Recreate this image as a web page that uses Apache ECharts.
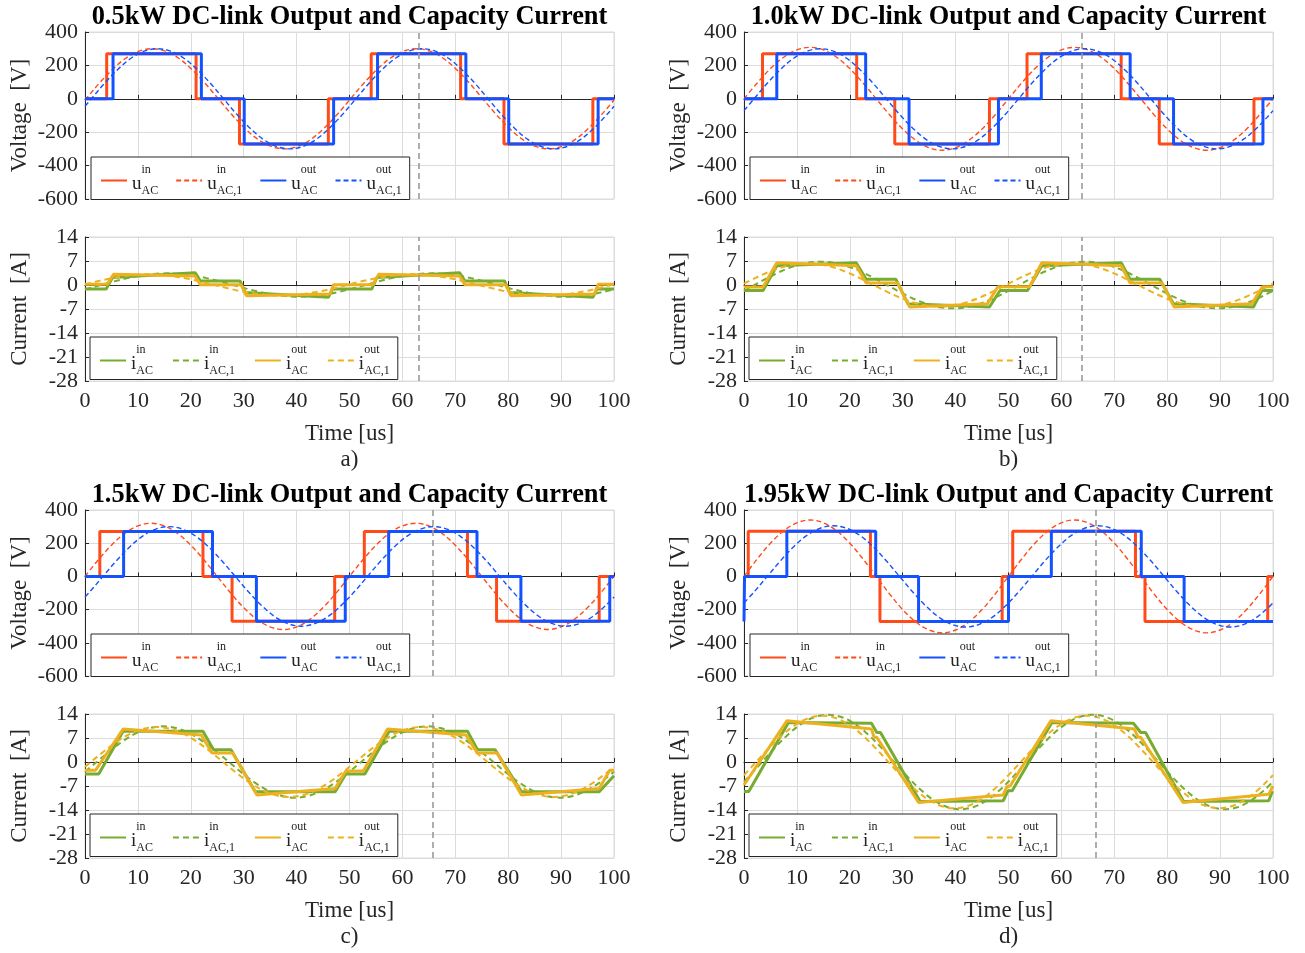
<!DOCTYPE html>
<html><head><meta charset="utf-8">
<script src="https://cdn.jsdelivr.net/npm/echarts@6/dist/echarts.min.js"></script>
<style>html,body{margin:0;padding:0;background:#fff}#c{width:1305px;height:953px}</style>
</head><body><div id="c"></div><script>
// ---------- labels ----------
const titles = ['0.5kW DC-link Output and Capacity Current','1.0kW DC-link Output and Capacity Current','1.5kW DC-link Output and Capacity Current','1.95kW DC-link Output and Capacity Current'];
const subLabels = ['a)','b)','c)','d)'];
const timeTicks = [0,10,20,30,40,50,60,70,80,90,100];
const voltTicks = [-600,-400,-200,0,200,400];
const currTicks = [-28,-21,-14,-7,0,7,14];
const cursorTimes = [63.0, 63.9, 65.7, 66.4];

// ---------- panel a (0.5 kW) ----------
const a_uIn  = [[0,0],[4.1,270],[21.0,0],[29.2,-270],[46.0,0],[54.1,270],[71.0,0],[79.2,-270],[96.0,0],[100,0]];
const a_uOut = [[0,0],[5.3,270],[22.0,0],[30.1,-270],[47.0,0],[55.3,270],[72.0,0],[80.1,-270],[97.0,0],[100,0]];
const a_uIn1 = [[0,-8],[0.2,0],[2.7,93],[5.2,176],[7.7,243],[10.2,285],[12.7,300],[15.2,285],[17.7,243],[20.2,176],[22.7,93],[25.2,0],[27.7,-93],[30.2,-176],[32.7,-243],[35.2,-285],[37.7,-300],[40.2,-285],[42.7,-243],[45.2,-176],[47.7,-93],[50.2,0],[52.7,93],[55.2,176],[57.7,243],[60.2,285],[62.7,300],[65.2,285],[67.7,243],[70.2,176],[72.7,93],[75.2,0],[77.7,-93],[80.2,-176],[82.7,-243],[85.2,-285],[87.7,-300],[90.2,-285],[92.7,-243],[95.2,-176],[97.7,-93],[100,-8]];
const a_uOut1 = [[0,-45],[1.2,0],[3.7,93],[6.2,176],[8.7,243],[11.2,285],[13.7,300],[16.2,285],[18.7,243],[21.2,176],[23.7,93],[26.2,0],[28.7,-93],[31.2,-176],[33.7,-243],[36.2,-285],[38.7,-300],[41.2,-285],[43.7,-243],[46.2,-176],[48.7,-93],[51.2,0],[53.7,93],[56.2,176],[58.7,243],[61.2,285],[63.7,300],[66.2,285],[68.7,243],[71.2,176],[73.7,93],[76.2,0],[78.7,-93],[81.2,-176],[83.7,-243],[86.2,-285],[88.7,-300],[91.2,-285],[93.7,-243],[96.2,-176],[98.7,-93],[100,-45]];
const a_iIn  = [[0,-1.2],[4.0,-1.2],[5.2,2.2],[20.8,3.6],[21.8,1.2],[29.3,1.2],[30.3,-2.2],[46.0,-3.6],[46.8,-1.2],[54.2,-1.2],[55.2,2.2],[70.8,3.6],[71.8,1.2],[79.3,1.2],[80.3,-2.2],[96.0,-3.6],[96.8,-1.2],[100,-1.2]];
const a_iOut = [[0,0.2],[4.2,0.2],[5.4,3.1],[20.8,2.6],[21.8,0.1],[29.5,0.1],[30.5,-3.1],[46.3,-2.6],[47.0,0.1],[54.4,0.1],[55.5,3.1],[70.8,2.6],[71.8,0.1],[79.5,0.1],[80.5,-3.1],[96.3,-2.6],[97.0,0.2],[100,0.2]];
const a_iIn1 = [[0,-1.25],[0.5,-1.05],[3,0],[5.5,1.05],[8,2.0],[10.5,2.75],[13,3.23],[15.5,3.4],[18,3.23],[20.5,2.75],[23,2.0],[25.5,1.05],[28,0],[30.5,-1.05],[33,-2.0],[35.5,-2.75],[38,-3.23],[40.5,-3.4],[43,-3.23],[45.5,-2.75],[48,-2.0],[50.5,-1.05],[53,0],[55.5,1.05],[58,2.0],[60.5,2.75],[63,3.23],[65.5,3.4],[68,3.23],[70.5,2.75],[73,2.0],[75.5,1.05],[78,0],[80.5,-1.05],[83,-2.0],[85.5,-2.75],[88,-3.23],[90.5,-3.4],[93,-3.23],[95.5,-2.75],[98,-2.0],[100,-1.25]];
const a_iOut1 = [[0,0.19],[2,0.96],[4.5,1.82],[7,2.51],[9.5,2.95],[12,3.1],[14.5,2.95],[17,2.51],[19.5,1.82],[22,0.96],[24.5,0],[27,-0.96],[29.5,-1.82],[32,-2.51],[34.5,-2.95],[37,-3.1],[39.5,-2.95],[42,-2.51],[44.5,-1.82],[47,-0.96],[49.5,0],[52,0.96],[54.5,1.82],[57,2.51],[59.5,2.95],[62,3.1],[64.5,2.95],[67,2.51],[69.5,1.82],[72,0.96],[74.5,0],[77,-0.96],[79.5,-1.82],[82,-2.51],[84.5,-2.95],[87,-3.1],[89.5,-2.95],[92,-2.51],[94.5,-1.82],[97,-0.96],[99.5,0],[100,0.19]];

// ---------- panel b (1.0 kW) ----------
const b_uIn  = [[0,0],[3.5,270],[21.3,0],[28.5,-270],[46.4,0],[53.5,270],[71.3,0],[78.5,-270],[96.4,0],[100,0]];
const b_uOut = [[0,0],[6.2,270],[23.0,0],[31.2,-270],[48.1,0],[56.2,270],[73.0,0],[81.2,-270],[98.1,0],[100,0]];
const b_uIn1 = [[0,0],[2.5,95],[5,181],[7.5,249],[10,293],[12.5,308],[15,293],[17.5,249],[20,181],[22.5,95],[25,0],[27.5,-95],[30,-181],[32.5,-249],[35,-293],[37.5,-308],[40,-293],[42.5,-249],[45,-181],[47.5,-95],[50,0],[52.5,95],[55,181],[57.5,249],[60,293],[62.5,308],[65,293],[67.5,249],[70,181],[72.5,95],[75,0],[77.5,-95],[80,-181],[82.5,-249],[85,-293],[87.5,-308],[90,-293],[92.5,-249],[95,-181],[97.5,-95],[100,0]];
const b_uOut1 = [[0,-71],[1.9,0],[4.4,93],[6.9,176],[9.4,243],[11.9,285],[14.4,300],[16.9,285],[19.4,243],[21.9,176],[24.4,93],[26.9,0],[29.4,-93],[31.9,-176],[34.4,-243],[36.9,-285],[39.4,-300],[41.9,-285],[44.4,-243],[46.9,-176],[49.4,-93],[51.9,0],[54.4,93],[56.9,176],[59.4,243],[61.9,285],[64.4,300],[66.9,285],[69.4,243],[71.9,176],[74.4,93],[76.9,0],[79.4,-93],[81.9,-176],[84.4,-243],[86.9,-285],[89.4,-300],[91.9,-285],[94.4,-243],[96.9,-176],[99.4,-93],[100,-71]];
const b_iIn  = [[0,-1.6],[3.6,-1.6],[6.2,5.6],[21.2,6.5],[23.1,1.7],[28.7,1.7],[31.0,-5.5],[46.4,-6.4],[48.4,-1.6],[53.6,-1.6],[56.3,5.6],[71.3,6.5],[73.0,1.7],[78.6,1.7],[81.2,-5.5],[96.3,-6.4],[97.9,-1.6],[100,-1.6]];
const b_iOut = [[0,-0.6],[3.6,-0.6],[6.2,6.5],[21.2,5.6],[23.1,0.6],[29.0,0.6],[31.3,-6.4],[46.0,-5.5],[48.0,-0.5],[54.0,-0.5],[56.3,6.5],[71.3,5.6],[73.0,0.6],[79.0,0.6],[81.3,-6.4],[96.0,-5.5],[98.0,-0.5],[100,-0.5]];
const b_iIn1 = [[0,-1.69],[2,0],[4.5,2.1],[7,4.0],[9.5,5.5],[12,6.47],[14.5,6.8],[17,6.47],[19.5,5.5],[22,4.0],[24.5,2.1],[27,0],[29.5,-2.1],[32,-4.0],[34.5,-5.5],[37,-6.47],[39.5,-6.8],[42,-6.47],[44.5,-5.5],[47,-4.0],[49.5,-2.1],[52,0],[54.5,2.1],[57,4.0],[59.5,5.5],[62,6.47],[64.5,6.8],[67,6.47],[69.5,5.5],[72,4.0],[74.5,2.1],[77,0],[79.5,-2.1],[82,-4.0],[84.5,-5.5],[87,-6.47],[89.5,-6.8],[92,-6.47],[94.5,-5.5],[97,-4.0],[99.5,-2.1],[100,-1.69]];
const b_iOut1 = [[0,0.4],[2,1.95],[4.5,3.7],[7,5.1],[9.5,6.0],[12,6.3],[14.5,6.0],[17,5.1],[19.5,3.7],[22,1.95],[24.5,0],[27,-1.95],[29.5,-3.7],[32,-5.1],[34.5,-6.0],[37,-6.3],[39.5,-6.0],[42,-5.1],[44.5,-3.7],[47,-1.95],[49.5,0],[52,1.95],[54.5,3.7],[57,5.1],[59.5,6.0],[62,6.3],[64.5,6.0],[67,5.1],[69.5,3.7],[72,1.95],[74.5,0],[77,-1.95],[79.5,-3.7],[82,-5.1],[84.5,-6.0],[87,-6.3],[89.5,-6.0],[92,-5.1],[94.5,-3.7],[97,-1.95],[99.5,0],[100,0.4]];

// ---------- panel c (1.5 kW) ----------
const c_uIn  = [[0,0],[2.8,270],[22.3,0],[27.8,-270],[47.2,0],[52.8,270],[72.3,0],[77.8,-270],[97.2,0],[100,0]];
const c_uOut = [[0,0],[7.3,270],[24.1,0],[32.4,-270],[49.2,0],[57.4,270],[74.1,0],[82.4,-270],[99.2,0],[100,0]];
const c_uIn1 = [[0,0],[2.5,99],[5,188],[7.5,259],[10,304],[12.5,320],[15,304],[17.5,259],[20,188],[22.5,99],[25,0],[27.5,-99],[30,-188],[32.5,-259],[35,-304],[37.5,-320],[40,-304],[42.5,-259],[45,-188],[47.5,-99],[50,0],[52.5,99],[55,188],[57.5,259],[60,304],[62.5,320],[65,304],[67.5,259],[70,188],[72.5,99],[75,0],[77.5,-99],[80,-188],[82.5,-259],[85,-304],[87.5,-320],[90,-304],[92.5,-259],[95,-188],[97.5,-99],[100,0]];
const c_uOut1 = [[0,-124],[0.9,-93],[3.4,0],[5.9,93],[8.4,176],[10.9,243],[13.4,285],[15.9,300],[18.4,285],[20.9,243],[23.4,176],[25.9,93],[28.4,0],[30.9,-93],[33.4,-176],[35.9,-243],[38.4,-285],[40.9,-300],[43.4,-285],[45.9,-243],[48.4,-176],[50.9,-93],[53.4,0],[55.9,93],[58.4,176],[60.9,243],[63.4,285],[65.9,300],[68.4,285],[70.9,243],[73.4,176],[75.9,93],[78.4,0],[80.9,-93],[83.4,-176],[85.9,-243],[88.4,-285],[90.9,-300],[93.4,-285],[95.9,-243],[98.4,-176],[100,-124]];
const c_iIn  = [[0,-3.5],[2.6,-3.5],[7.2,9.0],[22.3,9.0],[24.3,3.6],[27.6,3.6],[32.2,-8.7],[47.3,-8.7],[49.3,-3.5],[52.9,-3.5],[57.5,9.0],[72.3,9.0],[74.2,3.6],[77.5,3.6],[82.5,-8.7],[97.2,-8.7],[100,-4.0]];
const c_iOut = [[0,-2.4],[2.0,-2.4],[7.2,9.6],[22.0,7.9],[24.0,2.6],[27.9,2.6],[32.5,-9.6],[47.3,-7.7],[49.3,-2.6],[52.6,-2.6],[57.2,9.6],[72.0,7.9],[74.2,2.6],[77.9,2.6],[82.5,-9.6],[97.2,-7.7],[99.2,-2.4],[100,-2.4]];
const c_iIn1 = [[0,-2.83],[2.2,0],[4.7,3.21],[7.2,6.11],[9.7,8.41],[12.2,9.89],[14.7,10.4],[17.2,9.89],[19.7,8.41],[22.2,6.11],[24.7,3.21],[27.2,0],[29.7,-3.21],[32.2,-6.11],[34.7,-8.41],[37.2,-9.89],[39.7,-10.4],[42.2,-9.89],[44.7,-8.41],[47.2,-6.11],[49.7,-3.21],[52.2,0],[54.7,3.21],[57.2,6.11],[59.7,8.41],[62.2,9.89],[64.7,10.4],[67.2,9.89],[69.7,8.41],[72.2,6.11],[74.7,3.21],[77.2,0],[79.7,-3.21],[82.2,-6.11],[84.7,-8.41],[87.2,-9.89],[89.7,-10.4],[92.2,-9.89],[94.7,-8.41],[97.2,-6.11],[99.7,-3.21],[100,-2.83]];
const c_iOut1 = [[0,-1.4],[1.1,0],[3.6,3.15],[6.1,6.0],[8.6,8.25],[11.1,9.7],[13.6,10.2],[16.1,9.7],[18.6,8.25],[21.1,6.0],[23.6,3.15],[26.1,0],[28.6,-3.15],[31.1,-6.0],[33.6,-8.25],[36.1,-9.7],[38.6,-10.2],[41.1,-9.7],[43.6,-8.25],[46.1,-6.0],[48.6,-3.15],[51.1,0],[53.6,3.15],[56.1,6.0],[58.6,8.25],[61.1,9.7],[63.6,10.2],[66.1,9.7],[68.6,8.25],[71.1,6.0],[73.6,3.15],[76.1,0],[78.6,-3.15],[81.1,-6.0],[83.6,-8.25],[86.1,-9.7],[88.6,-10.2],[91.1,-9.7],[93.6,-8.25],[96.1,-6.0],[98.6,-3.15],[100,-1.4]];

// ---------- panel d (1.95 kW) ----------
const d_uIn  = [[0,0],[0.8,272],[23.9,0],[25.7,-272],[48.8,0],[50.8,272],[74.0,0],[75.8,-272],[99.0,0],[100,0]];
const d_uOut = [[0,-272],[0.1,0],[8.1,272],[24.9,0],[33.0,-272],[50.0,0],[58.1,272],[75.1,0],[83.2,-272],[100,-272]];
const d_uIn1 = [[0,0],[2.5,105],[5,200],[7.5,275],[10,323],[12.5,340],[15,323],[17.5,275],[20,200],[22.5,105],[25,0],[27.5,-105],[30,-200],[32.5,-275],[35,-323],[37.5,-340],[40,-323],[42.5,-275],[45,-200],[47.5,-105],[50,0],[52.5,105],[55,200],[57.5,275],[60,323],[62.5,340],[65,323],[67.5,275],[70,200],[72.5,105],[75,0],[77.5,-105],[80,-200],[82.5,-275],[85,-323],[87.5,-340],[90,-323],[92.5,-275],[95,-200],[97.5,-105],[100,0]];
const d_uOut1 = [[0,-160],[1.9,-94],[4.4,0],[6.9,94],[9.4,179],[11.9,247],[14.4,290],[16.9,305],[19.4,290],[21.9,247],[24.4,179],[26.9,94],[29.4,0],[31.9,-94],[34.4,-179],[36.9,-247],[39.4,-290],[41.9,-305],[44.4,-290],[46.9,-247],[49.4,-179],[51.9,-94],[54.4,0],[56.9,94],[59.4,179],[61.9,247],[64.4,290],[66.9,305],[69.4,290],[71.9,247],[74.4,179],[76.9,94],[79.4,0],[81.9,-94],[84.4,-179],[86.9,-247],[89.4,-290],[91.9,-305],[94.4,-290],[96.9,-247],[99.4,-179],[100,-160]];
const d_iIn  = [[0,-8.6],[0.9,-8.6],[8.4,11.5],[24.1,11.3],[25.1,8.6],[25.8,8.6],[33.3,-11.5],[49.0,-11.3],[49.9,-8.4],[50.7,-8.4],[58.2,11.5],[73.6,11.3],[75.0,8.6],[75.9,8.6],[83.1,-11.5],[99.2,-11.3],[99.9,-8.5],[100,-8.5]];
const d_iOut = [[0,-6.7],[0.3,-6.7],[8.1,12.0],[24.1,9.6],[24.6,7.2],[25.1,7.2],[33.0,-11.8],[49.0,-9.6],[49.7,-7.2],[50.3,-7.0],[58.0,12.0],[73.8,9.6],[74.5,7.2],[75.0,7.2],[83.0,-11.8],[99.2,-9.4],[100,-7.0]];
const d_iIn1 = [[0,-5.72],[0.9,-4.26],[3.4,0],[5.9,4.26],[8.4,8.11],[10.9,11.16],[13.4,13.12],[15.9,13.8],[18.4,13.12],[20.9,11.16],[23.4,8.11],[25.9,4.26],[28.4,0],[30.9,-4.26],[33.4,-8.11],[35.9,-11.16],[38.4,-13.12],[40.9,-13.8],[43.4,-13.12],[45.9,-11.16],[48.4,-8.11],[50.9,-4.26],[53.4,0],[55.9,4.26],[58.4,8.11],[60.9,11.16],[63.4,13.12],[65.9,13.8],[68.4,13.12],[70.9,11.16],[73.4,8.11],[75.9,4.26],[78.4,0],[80.9,-4.26],[83.4,-8.11],[85.9,-11.16],[88.4,-13.12],[90.9,-13.8],[93.4,-13.12],[95.9,-11.16],[98.4,-8.11],[100,-5.72]];
const d_iOut1 = [[0,-3.86],[2.3,0],[4.8,4.17],[7.3,7.94],[9.8,10.92],[12.3,12.84],[14.8,13.5],[17.3,12.84],[19.8,10.92],[22.3,7.94],[24.8,4.17],[27.3,0],[29.8,-4.17],[32.3,-7.94],[34.8,-10.92],[37.3,-12.84],[39.8,-13.5],[42.3,-12.84],[44.8,-10.92],[47.3,-7.94],[49.8,-4.17],[52.3,0],[54.8,4.17],[57.3,7.94],[59.8,10.92],[62.3,12.84],[64.8,13.5],[67.3,12.84],[69.8,10.92],[72.3,7.94],[74.8,4.17],[77.3,0],[79.8,-4.17],[82.3,-7.94],[84.8,-10.92],[87.3,-12.84],[89.8,-13.5],[92.3,-12.84],[94.8,-10.92],[97.3,-7.94],[99.8,-4.17],[100,-3.86]];

// ---------- assembly ----------
const FONT = '"Liberation Serif","Times New Roman",serif';
const RED = '#FF4B1A', BLUE = '#1452FF', GREEN = '#77AC30', YELLOW = '#EDB120';
const TXT = '#262626', GRIDC = '#dcdcdc';

const panelData = [
  {uIn:a_uIn,uIn1:a_uIn1,uOut:a_uOut,uOut1:a_uOut1,iIn:a_iIn,iIn1:a_iIn1,iOut:a_iOut,iOut1:a_iOut1},
  {uIn:b_uIn,uIn1:b_uIn1,uOut:b_uOut,uOut1:b_uOut1,iIn:b_iIn,iIn1:b_iIn1,iOut:b_iOut,iOut1:b_iOut1},
  {uIn:c_uIn,uIn1:c_uIn1,uOut:c_uOut,uOut1:c_uOut1,iIn:c_iIn,iIn1:c_iIn1,iOut:c_iOut,iOut1:c_iOut1},
  {uIn:d_uIn,uIn1:d_uIn1,uOut:d_uOut,uOut1:d_uOut1,iIn:d_iIn,iIn1:d_iIn1,iOut:d_iOut,iOut1:d_iOut1}
];
const layout = [
  {left:85, vTop:32, vH:167, iTop:237, iH:144, titleY:17, subY:460},
  {left:744, vTop:32, vH:167, iTop:237, iH:144, titleY:17, subY:460},
  {left:85, vTop:510, vH:166, iTop:714, iH:144, titleY:495, subY:937},
  {left:744, vTop:510, vH:166, iTop:714, iH:144, titleY:495, subY:937}
];
const PW = 529;

const grid = [], xAxis = [], yAxis = [], series = [], legend = [], graphic = [];
const labelStyle = {fontFamily:FONT, fontSize:22, color:TXT};

function mkX(gi, showLabels){
  return {type:'value', gridIndex:gi, min:timeTicks[0], max:timeTicks[timeTicks.length-1], interval:timeTicks[1]-timeTicks[0],
    axisLine:{show:true, lineStyle:{color:TXT, width:1}}, axisTick:{show:true, inside:true, length:4, lineStyle:{color:TXT}},
    splitLine:{show:true, lineStyle:{color:GRIDC, width:1}},
    axisLabel:Object.assign({show:showLabels, margin:9}, labelStyle),
    name: showLabels ? 'Time [us]' : '', nameLocation:'middle', nameGap:41,
    nameTextStyle:{fontFamily:FONT, fontSize:23, color:TXT}};
}
function mkY(gi, ticks, name){
  return {type:'value', gridIndex:gi, min:ticks[0], max:ticks[ticks.length-1], interval:ticks[1]-ticks[0],
    axisLine:{show:true, lineStyle:{color:TXT, width:1}}, axisTick:{show:true, inside:true, length:4, lineStyle:{color:TXT}},
    splitLine:{show:true, lineStyle:{color:GRIDC, width:1}},
    axisLabel:Object.assign({margin:7}, labelStyle),
    name:name, nameLocation:'middle', nameGap:54, nameRotate:90,
    nameTextStyle:{fontFamily:FONT, fontSize:23, color:TXT}};
}
function mkS(name, data, gi, color, kind){
  const s = {name:name, type:'line', xAxisIndex:gi, yAxisIndex:gi, data:data, symbol:'none', showSymbol:false,
    animation:false, silent:true, emphasis:{disabled:true}, itemStyle:{color:color}};
  if (kind === 'step') { s.step = 'end'; s.lineStyle = {color:color, width:3}; }
  else if (kind === 'solid') { s.lineStyle = {color:color, width:3}; }
  else if (kind === 'vdash') { s.smooth = 0.35; s.lineStyle = {color:color, width:1.4, type:[5,3]}; }
  else { s.smooth = 0.35; s.lineStyle = {color:color, width:2, type:[6,4]}; }
  return s;
}
function cursorLine(t){
  return {silent:true, symbol:['none','none'], animation:false, label:{show:false},
    lineStyle:{color:'#9a9a9a', type:[6,4], width:1.6}, data:[{xAxis:t}]};
}

const legendText = {
  uIn:['u','in','AC'], uIn1:['u','in','AC,1'], uOut:['u','out','AC'], uOut1:['u','out','AC,1'],
  iIn:['i','in','AC'], iIn1:['i','in','AC,1'], iOut:['i','out','AC'], iOut1:['i','out','AC,1']
};
const rich = {
  g:{fontSize:19, fontFamily:FONT, color:'rgba(0,0,0,0)', lineHeight:10},
  sp:{fontSize:12, fontFamily:FONT, color:'#222', lineHeight:10},
  m:{fontSize:19, fontFamily:FONT, color:'#222', lineHeight:19, verticalAlign:'top'},
  sb:{fontSize:12, fontFamily:FONT, color:'#222', lineHeight:22, verticalAlign:'bottom'}
};
function legendFmt(name){
  const key = name.split('|')[1];
  const t = legendText[key];
  return '{g|' + t[0] + '}{sp|' + t[1] + '}\n{m|' + t[0] + '}{sb|' + t[2] + '}';
}

panelData.forEach((P, p) => {
  const L = layout[p];
  const gv = 2*p, gc = 2*p + 1;
  grid.push({left:L.left, top:L.vTop, width:PW, height:L.vH, show:true, borderColor:GRIDC, borderWidth:1, containLabel:false});
  grid.push({left:L.left, top:L.iTop, width:PW, height:L.iH, show:true, borderColor:GRIDC, borderWidth:1, containLabel:false});
  xAxis.push(mkX(gv, false)); xAxis.push(mkX(gc, true));
  yAxis.push(mkY(gv, voltTicks, 'Voltage  [V]')); yAxis.push(mkY(gc, currTicks, 'Current  [A]'));
  const id = 'abcd'[p];
  const s1 = mkS(id+'|uIn', P.uIn, gv, RED, 'step'); s1.markLine = cursorLine(cursorTimes[p]);
  series.push(s1);
  series.push(mkS(id+'|uIn1', P.uIn1, gv, RED, 'vdash'));
  series.push(mkS(id+'|uOut', P.uOut, gv, BLUE, 'step'));
  series.push(mkS(id+'|uOut1', P.uOut1, gv, BLUE, 'vdash'));
  const s2 = mkS(id+'|iIn', P.iIn, gc, GREEN, 'solid'); s2.markLine = cursorLine(cursorTimes[p]);
  series.push(s2);
  series.push(mkS(id+'|iIn1', P.iIn1, gc, GREEN, 'idash'));
  series.push(mkS(id+'|iOut', P.iOut, gc, YELLOW, 'solid'));
  series.push(mkS(id+'|iOut1', P.iOut1, gc, YELLOW, 'idash'));
  const lg = (names, left, top, gap) => ({
    left:left, top:top, orient:'horizontal', itemWidth:26, itemHeight:14, itemGap:gap,
    padding:[3,8,3,9], backgroundColor:'#fff', borderColor:TXT, borderWidth:1, borderRadius:0,
    selectedMode:false, data:names, formatter:legendFmt, z:10,
    itemStyle:{color:'rgba(0,0,0,0)', borderWidth:0, opacity:0},
    textStyle:{fontFamily:FONT, color:'#222', rich:rich}
  });
  legend.push(lg([id+'|uIn', id+'|uIn1', id+'|uOut', id+'|uOut1'], L.left+6, L.vTop+L.vH-42, 17));
  legend.push(lg([id+'|iIn', id+'|iIn1', id+'|iOut', id+'|iOut1'], L.left+5, L.iTop+L.iH-44, 19));
  graphic.push({type:'text', x:L.left+PW/2, y:L.titleY, z:20, style:{text:titles[p], font:'bold 26.4px ' + FONT, fill:'#000', align:'center', verticalAlign:'middle', textAlign:'center', textVerticalAlign:'middle'}});
  graphic.push({type:'text', x:L.left+PW/2, y:L.subY, z:20, style:{text:subLabels[p], font:'23px ' + FONT, fill:TXT, align:'center', verticalAlign:'middle', textAlign:'center', textVerticalAlign:'middle'}});
});

const chart = echarts.init(document.getElementById('c'), null, {renderer:'canvas'});
chart.setOption({animation:false, backgroundColor:'#fff', grid, xAxis, yAxis, series, legend, graphic});
</script></body></html>
